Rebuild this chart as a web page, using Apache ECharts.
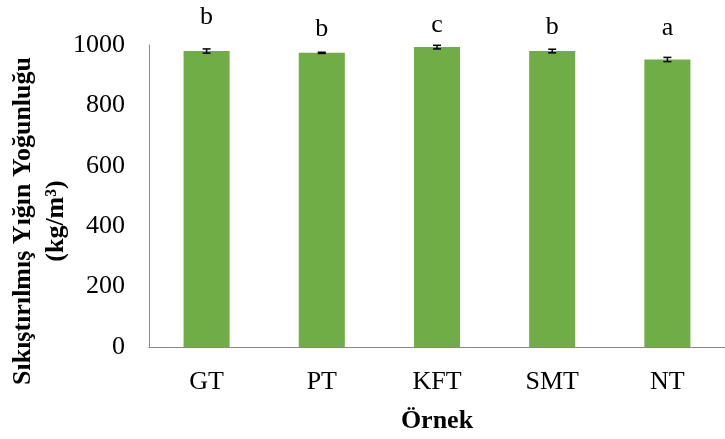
<!DOCTYPE html>
<html>
<head>
<meta charset="utf-8">
<script src="https://cdn.jsdelivr.net/npm/echarts@6/dist/echarts.min.js"></script>
<style>
html,body{margin:0;padding:0;background:#fff;}
#chart{width:725px;height:439px;}
</style>
</head>
<body>
<div id="chart"></div>
<script>
var categories = ['GT', 'PT', 'KFT', 'SMT', 'NT'];
var values = [980, 974, 993, 980, 952];
var errors = [7, 2, 6, 6, 7];
var letters = ['b', 'b', 'c', 'b', 'a'];
var yTicks = [0, 200, 400, 600, 800, 1000];
var labelGaps = [21, 11, 9, 11, 18];

var FONT = '"Liberation Serif", "Times New Roman", serif';
var chart = echarts.init(document.getElementById('chart'), null, {renderer: 'canvas'});

var barData = values.map(function (v, i) {
  return {
    value: v,
    label: { distance: labelGaps[i] }
  };
});

var option = {
  backgroundColor: '#ffffff',
  animation: false,
  grid: { left: 149, top: 45, width: 585.5, height: 307.7, containLabel: false },
  xAxis: {
    type: 'category',
    data: categories,
    axisTick: { show: false },
    axisLine: { lineStyle: { color: '#898989', width: 1 } },
    axisLabel: { color: '#000', fontFamily: FONT, fontSize: 26, margin: 22 },
    name: 'Örnek',
    nameLocation: 'middle',
    nameGap: 61,
    nameTextStyle: { color: '#000', fontFamily: FONT, fontSize: 26, fontWeight: 'bold' }
  },
  yAxis: {
    type: 'value',
    min: yTicks[0],
    max: yTicks[yTicks.length - 1],
    interval: yTicks[1] - yTicks[0],
    splitLine: { show: false },
    axisTick: { show: false },
    axisLine: { show: true, lineStyle: { color: '#898989', width: 1 } },
    axisLabel: {
      color: '#000', fontFamily: FONT, fontSize: 26, margin: 24,
      formatter: function (v) { return String(v); }
    }
  },
  graphic: [{
    type: 'text',
    x: 40,
    y: 221,
    rotation: Math.PI / 2,
    style: {
      text: 'Sıkıştırılmış Yığın Yoğunluğu\n(kg/m³)',
      font: 'bold 26px ' + FONT,
      fill: '#000',
      align: 'center',
      verticalAlign: 'middle',
      lineHeight: 33
    }
  }],
  series: [{
    type: 'bar',
    data: barData,
    barWidth: '40%',
    itemStyle: { color: '#70AD47' },
    label: {
      show: true,
      position: 'top',
      color: '#000',
      fontFamily: FONT,
      fontSize: 26,
      formatter: function (p) { return letters[p.dataIndex]; }
    },
    z: 2
  }, {
    type: 'custom',
    data: values.map(function (v, i) { return [i, v, errors[i]]; }),
    z: 5,
    renderItem: function (params, api) {
      var i = api.value(0), v = api.value(1), e = api.value(2);
      var hi = api.coord([i, v + e]);
      var lo = api.coord([i, v - e]);
      var cap = 4;
      var st = { stroke: '#000', lineWidth: 1.5 };
      return {
        type: 'group',
        children: [
          { type: 'line', shape: { x1: hi[0], y1: hi[1], x2: lo[0], y2: lo[1] }, style: st },
          { type: 'line', shape: { x1: hi[0] - cap, y1: hi[1], x2: hi[0] + cap, y2: hi[1] }, style: st },
          { type: 'line', shape: { x1: lo[0] - cap, y1: lo[1], x2: lo[0] + cap, y2: lo[1] }, style: st }
        ]
      };
    }
  }]
};
chart.setOption(option);
</script>
</body>
</html>
